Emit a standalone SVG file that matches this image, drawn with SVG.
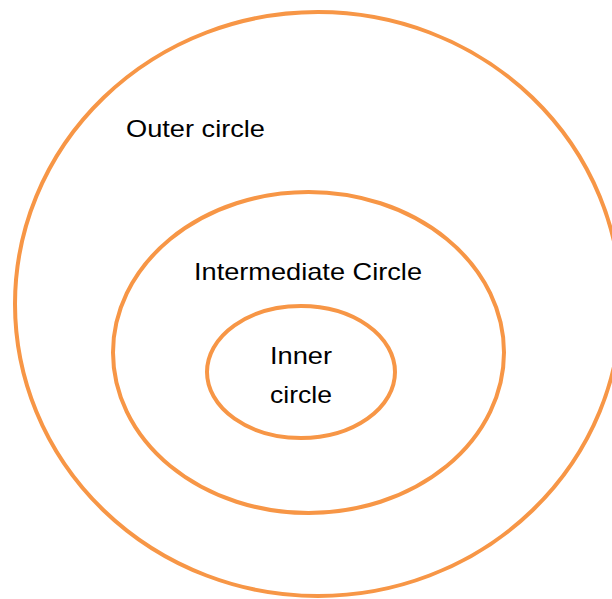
<svg xmlns="http://www.w3.org/2000/svg" width="612" height="599" viewBox="0 0 612 599">
<style>
.ring{fill:none;stroke:#F79646;stroke-width:4}
.lbl{font-family:"Liberation Sans",Arial,sans-serif;font-size:24px;fill:#000}
</style>
<rect width="612" height="599" fill="#fff"/>
<g id="outer">
<ellipse class="ring" cx="318" cy="304" rx="303" ry="292"/>
<text class="lbl" x="126" y="137" textLength="139" lengthAdjust="spacingAndGlyphs">Outer circle</text>
</g>
<g id="intermediate">
<ellipse class="ring" cx="308.5" cy="352.5" rx="195.5" ry="160.5"/>
<text class="lbl" x="194" y="280" textLength="228" lengthAdjust="spacingAndGlyphs">Intermediate Circle</text>
</g>
<g id="inner">
<ellipse class="ring" cx="301" cy="372" rx="94" ry="66"/>
<text class="lbl" x="270" y="364" textLength="62" lengthAdjust="spacingAndGlyphs">Inner</text>
<text class="lbl" x="270" y="403" textLength="62" lengthAdjust="spacingAndGlyphs">circle</text>
</g>
<g id="connectors"/>
</svg>
